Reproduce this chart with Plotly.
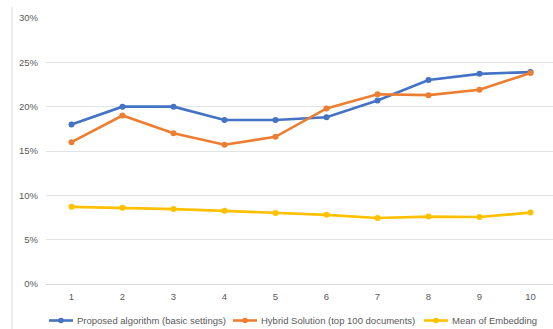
import plotly.graph_objects as go

# Results per step (percent)
steps = [1, 2, 3, 4, 5, 6, 7, 8, 9, 10]
proposed = [18.0, 20.0, 20.0, 18.5, 18.5, 18.8, 20.7, 23.0, 23.7, 23.9]
hybrid = [16.0, 19.0, 17.0, 15.7, 16.6, 19.8, 21.4, 21.3, 21.9, 23.8]
mean_emb = [8.7, 8.6, 8.45, 8.25, 8.0, 7.8, 7.45, 7.6, 7.55, 8.05]
y_ticks = [0, 5, 10, 15, 20, 25, 30]
y_tick_labels = ["0%", "5%", "10%", "15%", "20%", "25%", "30%"]

series_names = [
    "Proposed algorithm (basic settings)",
    "Hybrid Solution (top 100 documents)",
    "Mean of Embedding",
]
colors = ["#4472C4", "#ED7D31", "#FFC000"]

W, H = 553, 329
ML, MR, MT, MB = 46, 0, 18, 45
plot_w = W - ML - MR
plot_h = H - MT - MB


def px_x(px):
    return (px - ML) / plot_w


def px_y(py):
    return (H - MB - py) / plot_h


fig = go.Figure()
for name, vals, col in zip(series_names, [proposed, hybrid, mean_emb], colors):
    fig.add_trace(go.Scatter(
        x=steps, y=vals, name=name, mode="lines+markers",
        line=dict(color=col, width=2.6),
        marker=dict(color=col, size=6, symbol="circle"),
        showlegend=False,
    ))

shapes = []
annotations = []

# thin border line on the left edge
shapes.append(dict(
    type="line", xref="paper", yref="paper",
    x0=px_x(12), x1=px_x(12), y0=px_y(H), y1=px_y(7),
    line=dict(color="#d9d9d9", width=1),
))

# legend row below the axis
legend_starts = [49, 233, 424]
legend_y = 320.5
for name, col, x0 in zip(series_names, colors, legend_starts):
    shapes.append(dict(
        type="line", xref="paper", yref="paper",
        x0=px_x(x0), x1=px_x(x0 + 24), y0=px_y(legend_y), y1=px_y(legend_y),
        line=dict(color=col, width=2.6),
    ))
    cx = x0 + 12
    shapes.append(dict(
        type="circle", xref="paper", yref="paper",
        x0=px_x(cx - 2.8), x1=px_x(cx + 2.8),
        y0=px_y(legend_y + 2.8), y1=px_y(legend_y - 2.8),
        fillcolor=col, line=dict(color=col, width=0),
    ))
    annotations.append(dict(
        text=name, xref="paper", yref="paper",
        x=px_x(x0 + 26), y=px_y(legend_y), xanchor="left", yanchor="middle",
        showarrow=False, font=dict(size=9.5, color="#595959"),
    ))

fig.update_layout(
    width=W, height=H,
    margin=dict(l=ML, r=MR, t=MT, b=MB, autoexpand=False),
    paper_bgcolor="white", plot_bgcolor="white",
    font=dict(family="Liberation Sans", size=9.5, color="#595959"),
    showlegend=False,
    shapes=shapes,
    annotations=annotations,
    xaxis=dict(
        range=[0.5, 0.5 + plot_w / 51.0], tickmode="array", tickvals=steps,
        showgrid=False, zeroline=False, showline=False, ticks="",
        fixedrange=True, tickfont=dict(size=9.5, color="#595959"),
        ticklabelstandoff=5,
    ),
    yaxis=dict(
        range=[0, 30], tickmode="array", tickvals=y_ticks, ticktext=y_tick_labels,
        showgrid=True, gridcolor="#e3e3e3", gridwidth=1,
        zeroline=True, zerolinecolor="#d9d9d9", zerolinewidth=1,
        showline=False, ticks="", tickfont=dict(size=9.5, color="#595959"),
        ticklabelstandoff=7,
    ),
)

fig.write_html("out.html")
